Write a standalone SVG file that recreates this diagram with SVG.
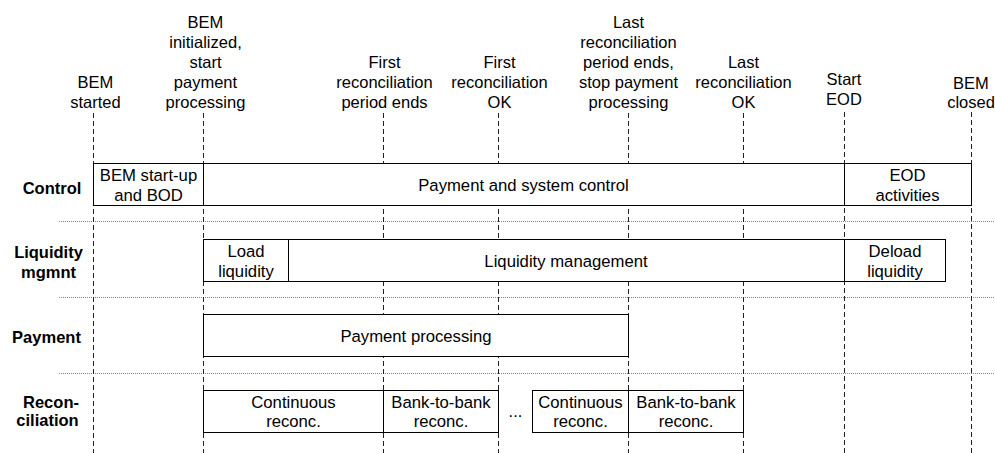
<svg xmlns="http://www.w3.org/2000/svg" width="995" height="453" viewBox="0 0 995 453">
<style>
text{font-family:"Liberation Sans",Arial,sans-serif;font-size:16.5px;fill:#000;text-anchor:middle}
.bt{font-size:16.7px}
.lane{font-weight:bold;font-size:16.5px}
.box{fill:#fff;stroke:#000;stroke-width:1}
.dash{stroke:#222;stroke-width:1;stroke-dasharray:5 3;fill:none}
.dot{stroke:#888;stroke-width:1;stroke-dasharray:1 1;fill:none}
</style>
<rect width="995" height="453" fill="#fff"/>
<g id="separators">
<line class="dot" x1="59" y1="221.5" x2="995" y2="221.5"/>
<line class="dot" x1="59" y1="297.5" x2="995" y2="297.5"/>
<line class="dot" x1="59" y1="373.5" x2="995" y2="373.5"/>
</g>
<g id="connectors">
<line class="dash" x1="93.5" y1="113" x2="93.5" y2="453"/>
<line class="dash" x1="203.5" y1="113" x2="203.5" y2="453"/>
<line class="dash" x1="383.5" y1="113" x2="383.5" y2="453"/>
<line class="dash" x1="498.5" y1="113" x2="498.5" y2="453"/>
<line class="dash" x1="628.5" y1="113" x2="628.5" y2="453"/>
<line class="dash" x1="743.5" y1="113" x2="743.5" y2="453"/>
<line class="dash" x1="844.5" y1="112" x2="844.5" y2="453"/>
<line class="dash" x1="971.5" y1="112" x2="971.5" y2="453"/>
</g>
<g id="events">
<text x="95.5" y="88">BEM</text><text x="95.5" y="108">started</text>
<text x="205.5" y="27.5">BEM</text><text x="205.5" y="47.5">initialized,</text><text x="205.5" y="67.5">start</text><text x="205.5" y="87.5">payment</text><text x="205.5" y="107.5">processing</text>
<text x="384.5" y="67.5">First</text><text x="384.5" y="87.5">reconciliation</text><text x="384.5" y="107.5">period ends</text>
<text x="499.5" y="67.5">First</text><text x="499.5" y="87.5">reconciliation</text><text x="499.5" y="107.5">OK</text>
<text x="628.5" y="27.5">Last</text><text x="628.5" y="47.5">reconciliation</text><text x="628.5" y="67.5">period ends,</text><text x="628.5" y="87.5">stop payment</text><text x="628.5" y="107.5">processing</text>
<text x="743.5" y="67.5">Last</text><text x="743.5" y="87.5">reconciliation</text><text x="743.5" y="107.5">OK</text>
<text x="844" y="85">Start</text><text x="844" y="104.5">EOD</text>
<text x="971" y="89">BEM</text><text x="971" y="108">closed</text>
</g>
<g id="lanes">
<text class="lane" x="52" y="194">Control</text>
<text class="lane" x="48.5" y="258">Liquidity</text><text class="lane" x="48.5" y="277.5">mgmnt</text>
<text class="lane" x="46.5" y="342.5">Payment</text>
<text class="lane" x="51" y="407.5">Recon-</text><text class="lane" x="47.5" y="426">ciliation</text>
</g>
<g id="bem-startup"><rect class="box" x="93.5" y="163.5" width="110" height="42"/><text class="bt" x="148.5" y="181">BEM start-up</text><text class="bt" x="148.5" y="200.5">and BOD</text></g>
<g id="payment-system-control"><rect class="box" x="203.5" y="163.5" width="641" height="42"/><text class="bt" x="523.5" y="190.5">Payment and system control</text></g>
<g id="eod-activities"><rect class="box" x="844.5" y="163.5" width="127" height="42"/><text class="bt" x="907.5" y="181">EOD</text><text class="bt" x="907.5" y="200.5">activities</text></g>
<g id="load-liquidity"><rect class="box" x="203.5" y="239.5" width="85" height="42"/><text class="bt" x="246" y="257">Load</text><text class="bt" x="246" y="276.5">liquidity</text></g>
<g id="liquidity-management"><rect class="box" x="288.5" y="239.5" width="556" height="42"/><text class="bt" x="566" y="266.5">Liquidity management</text></g>
<g id="deload-liquidity"><rect class="box" x="844.5" y="239.5" width="101" height="42"/><text class="bt" x="895" y="257">Deload</text><text class="bt" x="895" y="276.5">liquidity</text></g>
<g id="payment-processing"><rect class="box" x="203.5" y="314.5" width="425" height="42"/><text class="bt" x="416" y="341.5">Payment processing</text></g>
<g id="continuous-1"><rect class="box" x="203.5" y="390.5" width="180" height="42"/><text class="bt" x="293.5" y="407.5">Continuous</text><text class="bt" x="293.5" y="427">reconc.</text></g>
<g id="bank-to-bank-1"><rect class="box" x="383.5" y="390.5" width="115" height="42"/><text class="bt" x="441" y="407.5">Bank-to-bank</text><text class="bt" x="441" y="427">reconc.</text></g>
<text x="515.5" y="416.5">...</text>
<g id="continuous-2"><rect class="box" x="532.5" y="390.5" width="96" height="42"/><text class="bt" x="580.5" y="407.5">Continuous</text><text class="bt" x="580.5" y="427">reconc.</text></g>
<g id="bank-to-bank-2"><rect class="box" x="628.5" y="390.5" width="115" height="42"/><text class="bt" x="686" y="407.5">Bank-to-bank</text><text class="bt" x="686" y="427">reconc.</text></g>
</svg>
